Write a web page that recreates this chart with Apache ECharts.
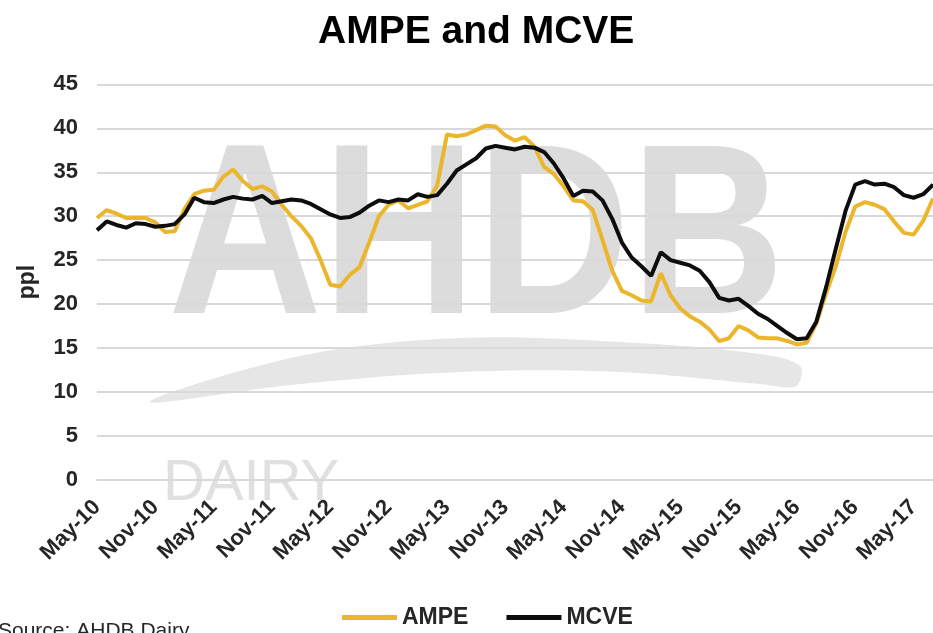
<!DOCTYPE html>
<html>
<head>
<meta charset="utf-8">
<title>AMPE and MCVE</title>
<script src="https://cdn.jsdelivr.net/npm/echarts@6/dist/echarts.min.js"></script>
<style>
  html, body { margin: 0; padding: 0; background: #fff; }
  #chartLine { width: 933px; height: 633px; }
</style>
</head>
<body>
<div id="chartLine"></div>
<script>
// monthly categories, May-10 .. Jul-17
const months = [
  "May-10", "Jun-10", "Jul-10", "Aug-10", "Sep-10", "Oct-10", "Nov-10", "Dec-10",
  "Jan-11", "Feb-11", "Mar-11", "Apr-11", "May-11", "Jun-11", "Jul-11", "Aug-11", "Sep-11", "Oct-11", "Nov-11", "Dec-11",
  "Jan-12", "Feb-12", "Mar-12", "Apr-12", "May-12", "Jun-12", "Jul-12", "Aug-12", "Sep-12", "Oct-12", "Nov-12", "Dec-12",
  "Jan-13", "Feb-13", "Mar-13", "Apr-13", "May-13", "Jun-13", "Jul-13", "Aug-13", "Sep-13", "Oct-13", "Nov-13", "Dec-13",
  "Jan-14", "Feb-14", "Mar-14", "Apr-14", "May-14", "Jun-14", "Jul-14", "Aug-14", "Sep-14", "Oct-14", "Nov-14", "Dec-14",
  "Jan-15", "Feb-15", "Mar-15", "Apr-15", "May-15", "Jun-15", "Jul-15", "Aug-15", "Sep-15", "Oct-15", "Nov-15", "Dec-15",
  "Jan-16", "Feb-16", "Mar-16", "Apr-16", "May-16", "Jun-16", "Jul-16", "Aug-16", "Sep-16", "Oct-16", "Nov-16", "Dec-16",
  "Jan-17", "Feb-17", "Mar-17", "Apr-17", "May-17", "Jun-17", "Jul-17"
];

// AMPE (ppl)
const ampe = [
  29.8, 30.7, 30.3, 29.8, 29.8, 29.8, 29.3, 28.2,
  28.3, 30.8, 32.5, 32.9, 33.0, 34.5, 35.3, 34.0, 33.1, 33.4, 32.8, 31.3,
  30.0, 28.9, 27.5, 25.0, 22.2, 22.0, 23.3, 24.2, 27.0, 30.0, 31.3, 31.8,
  30.9, 31.3, 31.7, 33.5, 39.3, 39.1, 39.3, 39.8, 40.3, 40.2, 39.2, 38.6,
  39.0, 37.9, 35.6, 34.8, 33.4, 31.8, 31.7, 30.7, 27.3, 23.8, 21.5, 21.0,
  20.4, 20.3, 23.5, 21.0, 19.5, 18.6, 18.0, 17.1, 15.8, 16.1, 17.5, 17.0,
  16.2, 16.1, 16.1, 15.8, 15.4, 15.6, 17.8, 21.2, 24.3, 28.2, 31.1, 31.6,
  31.3, 30.8, 29.4, 28.1, 27.9, 29.5, 32.0
];

// MCVE (ppl)
const mcve = [
  28.4, 29.4, 29.0, 28.7, 29.2, 29.1, 28.8, 28.9,
  29.1, 30.2, 32.1, 31.6, 31.5, 31.9, 32.2, 32.0, 31.9, 32.3, 31.5, 31.7,
  31.9, 31.8, 31.4, 30.8, 30.2, 29.8, 29.9, 30.4, 31.2, 31.8, 31.6, 31.9,
  31.8, 32.5, 32.2, 32.4, 33.7, 35.2, 35.9, 36.6, 37.7, 38.0, 37.8, 37.6,
  37.9, 37.8, 37.3, 36.0, 34.3, 32.3, 32.9, 32.8, 31.8, 29.7, 27.0, 25.3,
  24.3, 23.2, 25.9, 25.0, 24.7, 24.4, 23.8, 22.5, 20.7, 20.4, 20.6, 19.8,
  18.9, 18.3, 17.5, 16.7, 16.0, 16.1, 18.0, 21.9, 26.3, 30.6, 33.6, 34.0,
  33.6, 33.7, 33.3, 32.4, 32.1, 32.5, 33.6
];

const chartLine = echarts.init(document.getElementById("chartLine"));
const textColor = "#262626";
const fontFamily = "'Liberation Sans', Arial, sans-serif";

chartLine.setOption({
  animation: false,
  title: {
    text: "AMPE and MCVE",
    left: 318,
    top: 13,
    padding: 0,
    textStyle: { fontSize: 39, fontWeight: "bold", color: "#000", fontFamily: fontFamily }
  },
  legend: {
    data: ["AMPE", "MCVE"],
    left: 337,
    top: 601,
    icon: "rect",
    itemWidth: 55,
    itemHeight: 5,
    itemGap: 38,
    textStyle: { fontSize: 23, fontWeight: "bold", color: textColor, fontFamily: fontFamily }
  },
  // AHDB Dairy watermark behind the plot
  graphic: [
    {
      type: "polygon",
      z: -1,
      shape: {
        points: [[150, 402], [300, 356], [460, 338], [620, 342], [760, 354], [800, 366], [796, 386],
                 [760, 384], [620, 372], [460, 372], [300, 384]],
        smooth: 0.35
      },
      style: { fill: "#e6e6e6" }
    },
    {
      type: "text",
      z: -1,
      x: 168,
      y: 246,
      scaleX: 0.875,
      style: {
        text: "AHDB",
        font: "bold 244px 'Liberation Sans', Arial, sans-serif",
        fill: "#dcdcdc",
        verticalAlign: "middle"
      }
    },
    {
      type: "text",
      z: -1,
      x: 163,
      y: 484,
      style: {
        text: "DAIRY",
        font: "58px 'Liberation Sans', Arial, sans-serif",
        fill: "#e0e0e0",
        verticalAlign: "middle"
      }
    },
    {
      type: "text",
      x: -2,
      y: 621,
      style: {
        text: "Source: AHDB Dairy",
        font: "21px 'Liberation Sans', Arial, sans-serif",
        fill: textColor
      }
    }
  ],
  grid: {
    left: 97,
    right: -4,
    top: 84.4,
    bottom: 153.2
  },
  xAxis: {
    type: "category",
    data: months,
    boundaryGap: false,
    axisLine: { lineStyle: { color: "#d9d9d9", width: 2 } },
    axisTick: { show: false },
    axisLabel: {
      interval: 5,
      rotate: 45,
      margin: 24,
      fontSize: 22,
      fontWeight: "bold",
      color: textColor,
      fontFamily: fontFamily
    }
  },
  yAxis: {
    type: "value",
    min: 0,
    max: 45,
    interval: 5,
    name: "ppl",
    nameLocation: "middle",
    nameRotate: 90,
    nameGap: 58,
    nameTextStyle: { fontSize: 23, fontWeight: "bold", color: textColor, fontFamily: fontFamily },
    axisLine: { show: false },
    axisTick: { show: false },
    axisLabel: {
      margin: 19,
      fontSize: 22,
      fontWeight: "bold",
      color: textColor,
      fontFamily: fontFamily
    },
    splitLine: { lineStyle: { color: "#d9d9d9", width: 2 } }
  },
  series: [
    {
      name: "AMPE",
      type: "line",
      data: ampe,
      showSymbol: false,
      symbol: "none",
      color: "#ebb52c",
      lineStyle: { width: 4, color: "#ebb52c" }
    },
    {
      name: "MCVE",
      type: "line",
      data: mcve,
      showSymbol: false,
      symbol: "none",
      color: "#0d0d0d",
      lineStyle: { width: 4, color: "#0d0d0d" }
    }
  ]
});
</script>
</body>
</html>
